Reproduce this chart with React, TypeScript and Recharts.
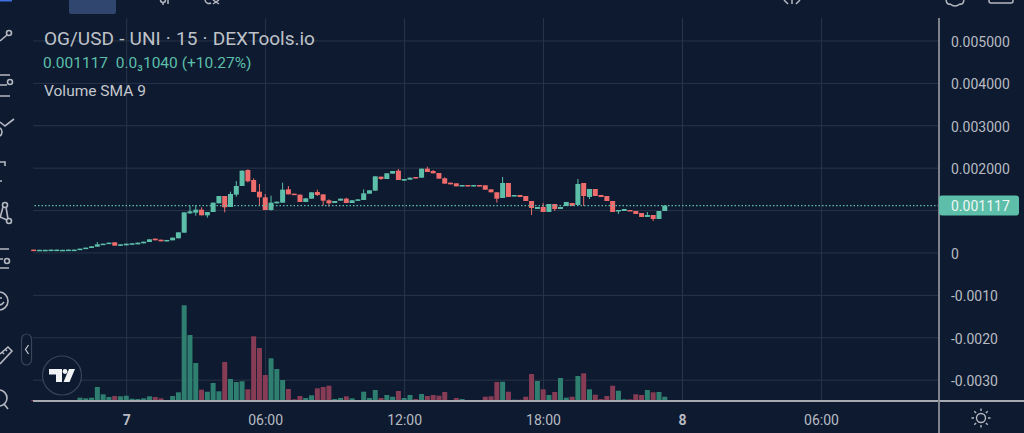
import React from "react"
import { ComposedChart, Bar, XAxis, YAxis, CartesianGrid, ReferenceLine, Cell } from "recharts"

// prices are in thousandths of a dollar, one candle per 15 minutes
const opens = [
  .079, .063, .063, .063, .067, .063, .063, .067, .071, .094,
  .118, .149, .189, .212, .252, .173,
  .181, .196, .204, .228, .259, .338, .314, .275, .299, .346,
  .479, .935, .951, 1.022, .888, .967, 1.171, 1.344, 1.085, 1.376,
  1.580, 1.957, 1.721, 1.446, 1.313, 1.014, 1.171, 1.187, 1.501, 1.399,
  1.376, 1.203, 1.281, 1.438, 1.383, 1.242, 1.179, 1.234, 1.281, 1.179,
  1.234, 1.250, 1.399, 1.470, 1.800, 1.745, 1.871, 1.941, 1.706, 1.729,
  1.792, 1.776, 1.989, 1.934, 1.886, 1.761, 1.658, 1.643, 1.572, 1.603,
  1.572, 1.603, 1.596, 1.501, 1.431, 1.297, 1.651, 1.332, 1.368, 1.344,
  1.226, 1.038, 1.085, .967, 1.155, 1.038, 1.108, 1.179, 1.132, 1.651,
  1.320, 1.509, 1.368, 1.344, 1.226, .990, .990, 1.014, .990, .943,
  .849, .896, .802, .990,
]
const closes = [
  .063, .075, .075, .079, .079, .075, .079, .079, .102, .126,
  .157, .204, .220, .244, .173, .204,
  .220, .228, .244, .267, .322, .299, .275, .307, .362, .487,
  .959, .983, 1.022, .888, .967, 1.187, 1.344, 1.077, 1.391, 1.580,
  1.941, 1.690, 1.438, 1.313, 1.014, 1.187, 1.210, 1.493, 1.383, 1.368,
  1.203, 1.289, 1.431, 1.368, 1.234, 1.171, 1.226, 1.281, 1.179, 1.242,
  1.265, 1.407, 1.478, 1.808, 1.745, 1.879, 1.934, 1.721, 1.745, 1.776,
  1.761, 1.989, 1.910, 1.879, 1.753, 1.635, 1.619, 1.572, 1.603, 1.572,
  1.603, 1.572, 1.493, 1.431, 1.281, 1.651, 1.320, 1.368, 1.320, 1.226,
  1.061, 1.085, .967, 1.155, 1.038, 1.085, 1.203, 1.108, 1.627, 1.344,
  1.509, 1.344, 1.320, 1.226, .967, 1.014, 1.038, .990, .920, .849,
  .896, .802, .990, 1.117,
]
const highs = [
  .079, .075, .075, .079, .079, .075, .079, .079, .102, .126,
  .157, .259, .220, .244, .252, .204,
  .220, .228, .244, .267, .322, .338, .314, .307, .362, .487,
  .959, 1.116, 1.132, 1.077, .967, 1.187, 1.344, 1.344, 1.446, 1.698,
  1.950, 1.973, 1.761, 1.627, 1.391, 1.352, 1.210, 1.658, 1.580, 1.399,
  1.376, 1.289, 1.431, 1.493, 1.383, 1.265, 1.226, 1.281, 1.305, 1.242,
  1.265, 1.501, 1.478, 1.808, 1.800, 1.879, 1.934, 1.981, 1.745, 1.776,
  1.792, 1.989, 2.036, 1.957, 1.886, 1.784, 1.658, 1.643, 1.603, 1.603,
  1.603, 1.603, 1.596, 1.501, 1.431, 1.792, 1.651, 1.368, 1.368, 1.344,
  1.226, 1.085, 1.179, 1.155, 1.155, 1.085, 1.203, 1.179, 1.745, 1.651,
  1.509, 1.509, 1.368, 1.344, 1.226, 1.014, 1.038, 1.014, .990, .943,
  .967, .896, .990, 1.117,
]
const lows = [
  .063, .063, .063, .063, .067, .063, .063, .067, .071, .094,
  .118, .149, .189, .212, .173, .173,
  .181, .196, .204, .228, .259, .299, .275, .275, .299, .346,
  .479, .920, .880, .888, .833, .967, 1.171, .959, 1.085, 1.328,
  1.580, 1.666, 1.438, 1.132, 1.014, .998, 1.171, 1.187, 1.383, 1.368,
  1.203, 1.203, 1.281, 1.344, 1.116, 1.093, 1.179, 1.234, 1.179, 1.179,
  1.234, 1.250, 1.399, 1.470, 1.721, 1.745, 1.871, 1.721, 1.706, 1.729,
  1.761, 1.776, 1.910, 1.879, 1.753, 1.635, 1.619, 1.572, 1.572, 1.572,
  1.572, 1.572, 1.493, 1.431, 1.187, 1.297, 1.320, 1.332, 1.320, 1.226,
  .896, 1.038, .967, .967, .990, 1.038, 1.108, 1.108, 1.132, 1.108,
  1.273, 1.344, 1.320, 1.226, .967, .920, .990, .990, .920, .849,
  .849, .755, .802, .990,
]
const volumes = [
  1, 1, 1, 1, 1, 1, 1, 1, 3.3, 2.7,
  3.3, 14, 6.7, 4, 5, 4.7,
  5.3, 2.3, 2, 2.7, 4.7, 4, 2.7, 1, 5, 8.7,
  95.7, 66, 38, 11.3, 9.3, 18, 9.7, 39, 22, 19,
  19.7, 11.7, 64.7, 53, 26, 42.7, 32, 21, 12, 1.7,
  5, 3, 5.7, 12.7, 14, 15.3, 2, 3, 4.7, 2.7,
  1, 9.3, 3, 11, 3, 6, 4.3, 10, 3, 6,
  2, 7, 5, 6, 5.3, 9, 1, 3, 2, 1,
  1, 1, 4.3, 4.7, 19, 19.3, 9.3, 1.3, 1.3, 4.3,
  27, 20, 11.7, 6, 9, 23, 3.3, 4.3, 25, 27.7,
  11.7, 6.3, 2, 5, 15.3, 10.3, 1.7, 1.7, 6.7, 6,
  11, 8.7, 9, 4.3,
]

const timeTicks = [0, 24, 48, 72, 96, 120]
const timeLabels = ["7", "06:00", "12:00", "18:00", "8", "06:00"]
const gridPrices = [5, 4, 3, 2, 1, 0, -1, -2, -3]
const lastPrice = 1.117
const priceTicks = [5, 4, 3, 2, lastPrice, 0, -1, -2, -3]
const priceLabels = ["0.005000", "0.004000", "0.003000", "0.002000", "0.001117", "0", "-0.0010", "-0.0020", "-0.0030"]

const FIRST_SLOT = -16
const BG = "#0d1a30"
const UP = "#5dbfa9"
const DOWN = "#ef6c6c"
const UP_VOL = "#2f7f70"
const DOWN_VOL = "#873c55"
const GRID = "#2a3449"
const TEXT = "#b8bbc2"
const ICON = "#b5b8c0"
const FONT = "Roboto, sans-serif"

const rows = opens.map((open, i) => ({
  slot: i + FIRST_SLOT,
  open,
  close: closes[i],
  range: [lows[i], highs[i]],
  volume: volumes[i],
}))

function Candle(props: any) {
  const { x, y, width, height, payload } = props
  const { open, close, range } = payload
  const perUnit = height / (range[1] - range[0])
  const top = y + (range[1] - Math.max(open, close)) * perUnit
  const bodyH = Math.max(Math.abs(open - close) * perUnit, 1.5)
  const color = close >= open ? UP : DOWN
  return (
    <g>
      <line x1={x + width / 2} x2={x + width / 2} y1={y} y2={y + height} stroke={color} strokeWidth={1} />
      <rect x={x} y={top} width={width} height={bodyH} fill={color} />
    </g>
  )
}

function TimeTick({ x, payload }: any) {
  const i = timeTicks.indexOf(payload.value)
  const label = timeLabels[i]
  const isDate = label.length === 1
  return (
    <text x={x} y={425} textAnchor="middle" fontFamily={FONT} fontSize={14} fontWeight={isDate ? 700 : 400} fill={TEXT}>
      {label}
    </text>
  )
}

function PriceTick({ y, payload }: any) {
  const i = priceTicks.indexOf(payload.value)
  if (payload.value === lastPrice) {
    return (
      <g>
        <rect x={939} y={y - 10} width={80} height={20} rx={3} fill={UP} />
        <text x={951} y={y + 5} fontFamily={FONT} fontSize={14} fill="#eef7f5">{priceLabels[i]}</text>
      </g>
    )
  }
  return <text x={951} y={y + 6} fontFamily={FONT} fontSize={14} fill={TEXT}>{priceLabels[i]}</text>
}

function Decor() {
  return (
    <svg width={1024} height={433} style={{ position: "absolute", left: 0, top: 0, pointerEvents: "none" }}>
      {/* top toolbar, cut off by the screenshot */}
      <rect x={69} y={-4} width={47} height={18} rx={2} fill="#31466f" />
      <rect x={0} y={0} width={12} height={1.5} fill="#3f6fe0" />
      <g stroke={ICON} strokeWidth={1.5} fill="none">
        <circle cx={163} cy={0} r={2.5} />
        <line x1={163} y1={2} x2={163} y2={5} />
        <line x1={168} y1={0} x2={168} y2={4} />
        <path d="M205 0 a4 4 0 0 0 6 3 M213 0 l6 4 M219 0 l-6 4" />
        <path d="M784 0 l4 4 M792 0 v4 M800 0 l-4 4" />
        <path d="M946 0 q1 5 4 4 q5 4 10 0 q3 1 4 -4" />
        <path d="M989 0 v1 a2 2 0 0 0 2 2 h20 a2 2 0 0 0 2 -2 v-1" />
      </g>
      {/* left toolbar */}
      <g stroke={ICON} strokeWidth={1.6} fill="none">
        <path d="M0 41 L7 35" />
        <circle cx={9} cy={33} r={2.5} />
        <path d="M0 75 H10 M0 85 H7 M0 96 H10" />
        <circle cx={10} cy={82} r={2.5} />
        <path d="M0 122 L5 126 L14 119" />
        <path d="M0 128 a5 5 0 0 1 0 8" />
        <path d="M0 162 H5 V166" />
        <path d="M0 181 H2" />
        <circle cx={5} cy={205} r={2.5} />
        <circle cx={9} cy={221} r={2.5} />
        <path d="M0 218 L3 207 M6 207 L8 219 M0 217 L7 220" />
        <path d="M0 249 H9 M0 259 H3 M0 268 H9" />
        <circle cx={7} cy={261} r={2.5} />
        <circle cx={-1} cy={301} r={9} />
        <path d="M0 298 h2 M-1 305 q3 0 5 -3" />
        <path d="M0 354 L8 347 L12 351 L0 364 M2 352 l2 2 M5 349 l2 2" />
        <circle cx={-1} cy={398} r={8} />
        <path d="M4 404 L8 409" />
      </g>
      {/* collapse button */}
      <rect x={21.5} y={334} width={10} height={31} rx={5} fill={BG} stroke="#38445a" strokeWidth={1.2} />
      <path d="M28.5 345 L25.5 349.5 L28.5 354" fill="none" stroke="#c9ccd2" strokeWidth={1.2} />
      {/* TradingView badge */}
      <circle cx={62} cy={375.5} r={19.5} fill={BG} stroke="#38445a" strokeWidth={1.2} />
      <path d="M49 369 H62 V382 H56 V374.5 H49 Z" fill="#f2f3f5" />
      <circle cx={65} cy={371.5} r={2.4} fill="#f2f3f5" />
      <path d="M69 369 H75 L69.5 382 H63.5 Z" fill="#f2f3f5" />
      {/* axis lines running past the plot */}
      <line x1={939} x2={1024} y1={401} y2={401} stroke="#a7abb0" strokeWidth={2} />
      <line x1={939} x2={939} y1={401} y2={433} stroke="#7e828c" strokeWidth={2} />
      {/* theme button */}
      <g stroke={ICON} strokeWidth={1.4} fill="none">
        <circle cx={981} cy={418} r={4.5} />
        <path d="M981 408.5 v2.5 M981 425 v2.5 M971.5 418 h2.5 M988 418 h2.5 M974.3 411.3 l1.8 1.8 M985.9 422.9 l1.8 1.8 M974.3 424.7 l1.8 -1.8 M985.9 413.1 l1.8 -1.8" />
      </g>
    </svg>
  )
}

export default function App() {
  return (
    <div style={{ position: "fixed", left: 0, top: 0, width: 1024, height: 433, background: BG, overflow: "hidden" }}>
      <div style={{ position: "absolute", left: 0, top: 0 }}>
        <ComposedChart width={1024} height={433} data={rows} margin={{ top: 18, right: 0, bottom: 0, left: 33 }}>
          <CartesianGrid
            xAxisId="time"
            yAxisId="price"
            stroke={GRID}
            horizontalValues={gridPrices}
            verticalValues={timeTicks}
          />
          <XAxis
            xAxisId="time"
            type="number"
            dataKey="slot"
            domain={[-16.18, 140.3]}
            ticks={timeTicks}
            interval={0}
            height={32}
            tick={<TimeTick />}
            tickLine={false}
            axisLine={{ stroke: "#a7abb0", strokeWidth: 2 }}
          />
          <XAxis xAxisId="vol" type="number" dataKey="slot" domain={[-16.18, 140.3]} hide />
          <YAxis
            yAxisId="price"
            orientation="right"
            type="number"
            domain={[-3.491, 5.542]}
            ticks={priceTicks}
            interval={0}
            width={85}
            tick={<PriceTick />}
            tickLine={false}
            axisLine={{ stroke: "#7e828c", strokeWidth: 2 }}
          />
          <YAxis yAxisId="vol" type="number" domain={[0, 383]} hide />
          <Bar xAxisId="vol" yAxisId="vol" dataKey="volume" barSize={5} isAnimationActive={false}>
            {rows.map((r) => (
              <Cell key={r.slot} fill={r.close >= r.open ? UP_VOL : DOWN_VOL} />
            ))}
          </Bar>
          <ReferenceLine xAxisId="time" yAxisId="price" y={lastPrice} stroke={UP} strokeWidth={1.2} strokeDasharray="1.5 2" />
          <Bar xAxisId="time" yAxisId="price" dataKey="range" barSize={5} shape={<Candle />} isAnimationActive={false} />
        </ComposedChart>
      </div>
      <Decor />
      <div style={{ position: "absolute", left: 44, top: 27, fontFamily: FONT, fontSize: 19, wordSpacing: 0.5, color: "#bfc2c9", whiteSpace: "pre" }}>
        OG/USD - UNI · 15 · DEXTools.io
      </div>
      <div style={{ position: "absolute", left: 43, top: 54, fontFamily: FONT, fontSize: 15.5, color: UP, whiteSpace: "pre" }}>
        0.001117  0.0₃1040 (+10.27%)
      </div>
      <div style={{ position: "absolute", left: 44, top: 82, fontFamily: FONT, fontSize: 15.5, color: "#c4c7cd", whiteSpace: "pre" }}>
        Volume SMA 9
      </div>
    </div>
  )
}
